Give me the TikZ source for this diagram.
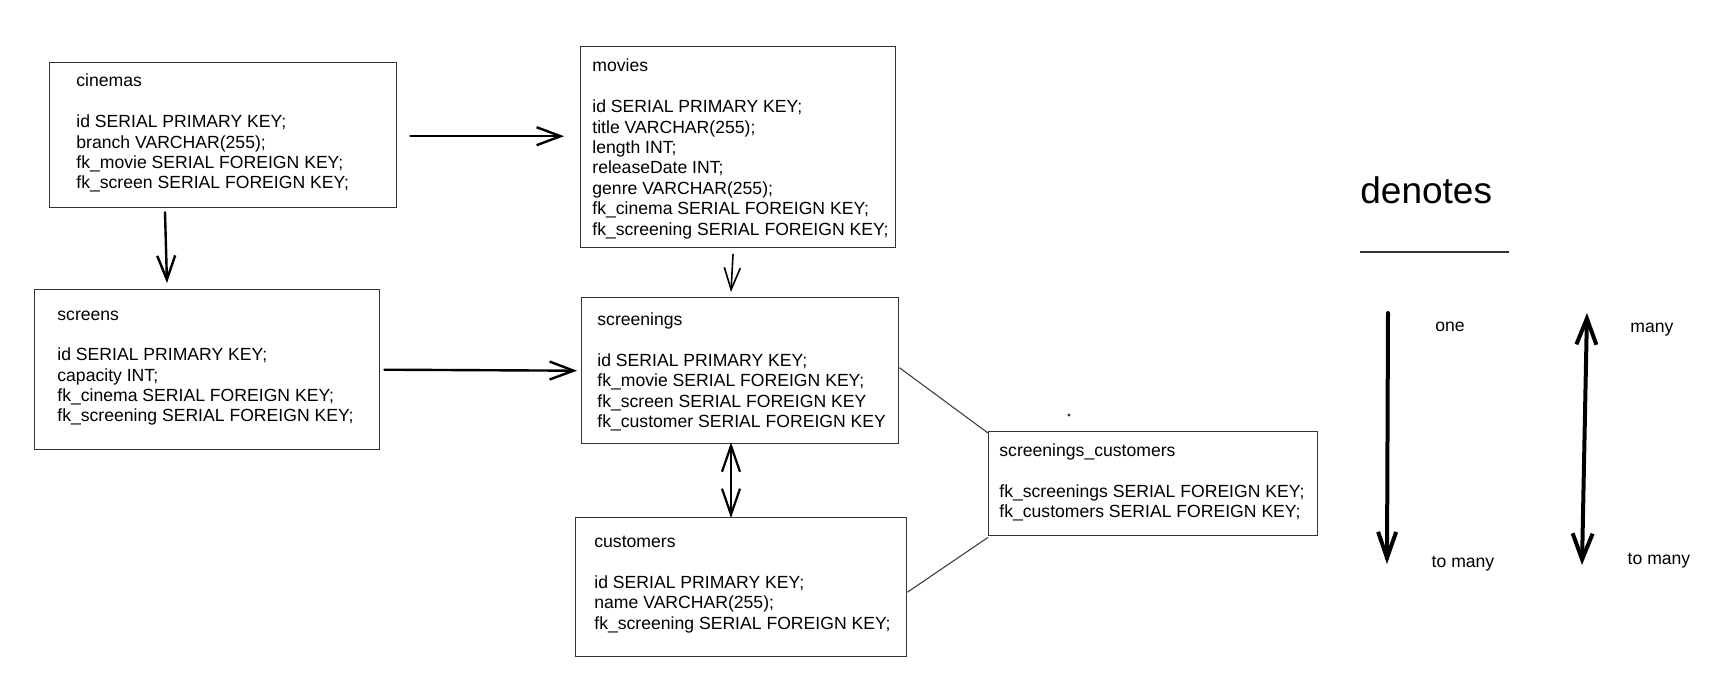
\documentclass[tikz,border=0pt]{standalone}
\usepackage{fontspec}
\setmainfont{Liberation Sans}
\usetikzlibrary{arrows.meta,calc}
\newcommand{\tbltext}[1]{\parbox[t]{200pt}{\raggedright #1}}
\begin{document}
\begin{tikzpicture}[x=0.5pt,y=-0.5pt,
  tbox/.style={draw=black!80, line width=0.7pt, inner sep=0pt, anchor=north west},
  ttext/.style={anchor=base west, inner sep=0pt, font=\fontsize{8.8pt}{10.2pt}\selectfont},
  lbl/.style={anchor=base, inner sep=0pt, font=\fontsize{8.8pt}{10.2pt}\selectfont},
  rel/.style={line width=1.2pt, line cap=round, -{Straight Barb[length=12pt,width=9pt]}},
  relthin/.style={line width=0.8pt, line cap=round, -{Straight Barb[length=11pt,width=8pt]}},
  relboth/.style={line width=1.1pt, line cap=round, {Straight Barb[length=13pt,width=9pt]}-{Straight Barb[length=13pt,width=9pt]}},
  link/.style={draw=black!75, line width=0.55pt},
  legone/.style={line width=2pt, line cap=round, -{Straight Barb[length=13pt,width=9pt]}},
  legmany/.style={line width=2pt, line cap=round, {Straight Barb[length=13pt,width=10pt]}-{Straight Barb[length=13pt,width=10pt]}}
]
\fill[white] (0,0) rectangle (1720,674);
\useasboundingbox (0,0) rectangle (1720,674);

% tables
\node[tbox, minimum width=173.5pt, minimum height=72.5pt] (cinemas) at (49,62) {};
\node[ttext] (cinemasT) at (76,87) {\tbltext{cinemas\\\mbox{}\\id SERIAL PRIMARY KEY;\\branch VARCHAR(255);\\fk\_movie SERIAL FOREIGN KEY;\\fk\_screen SERIAL FOREIGN KEY;}};

\node[tbox, minimum width=157.5pt, minimum height=100.5pt] (movies) at (580,46) {};
\node[ttext] (moviesT) at (592,72) {\tbltext{movies\\\mbox{}\\id SERIAL PRIMARY KEY;\\title VARCHAR(255);\\length INT;\\releaseDate INT;\\genre VARCHAR(255);\\fk\_cinema SERIAL FOREIGN KEY;\\fk\_screening SERIAL FOREIGN KEY;}};

\node[tbox, minimum width=172.5pt, minimum height=80pt] (screens) at (34,289) {};
\node[ttext] (screensT) at (57,320) {\tbltext{screens\\\mbox{}\\id SERIAL PRIMARY KEY;\\capacity INT;\\fk\_cinema SERIAL FOREIGN KEY;\\fk\_screening SERIAL FOREIGN KEY;}};

\node[tbox, minimum width=158.5pt, minimum height=73pt] (screenings) at (581,297) {};
\node[ttext] (screeningsT) at (597,325.5) {\tbltext{screenings\\\mbox{}\\id SERIAL PRIMARY KEY;\\fk\_movie SERIAL FOREIGN KEY;\\fk\_screen SERIAL FOREIGN KEY\\fk\_customer SERIAL FOREIGN KEY}};

\node[tbox, minimum width=165.5pt, minimum height=69.5pt] (customers) at (575,517) {};
\node[ttext] (customersT) at (594,547.5) {\tbltext{customers\\\mbox{}\\id SERIAL PRIMARY KEY;\\name VARCHAR(255);\\fk\_screening SERIAL FOREIGN KEY;}};

\node[tbox, minimum width=164.5pt, minimum height=52pt] (sc) at (988,431) {};
\node[ttext] (scT) at (999,456.5) {\tbltext{screenings\_customers\\\mbox{}\\fk\_screenings SERIAL FOREIGN KEY;\\fk\_customers SERIAL FOREIGN KEY;}};

% connectors
\draw[rel] ($(cinemas.east)+(13,1)$) -- ($(cinemas.east -| movies.west)+(-16,1)$);
\draw[rel] ($(cinemas.south west)+(116,4)$) -- ($(screens.north west)+(133,-6)$);
\draw[rel] ($(screens.east)+(4,0)$) -- ($(screenings.west)+(-4,0)$);
\draw[relthin] ($(movies.south west)+(153,6)$) -- ($(screenings.north west)+(150,-5)$);
\draw[relboth] ($(screenings.south west)+(150,-2)$) -- ($(customers.north west)+(156,1)$);
\draw[link] ($(screenings.east)+(0,-3)$) -- ($(sc.north west)+(0,2)$);
\draw[link] ($(customers.east)+(0,5)$) -- ($(sc.south west)+(0,1)$);
\fill[black!80] (1069,415) circle (0.8pt);

% legend
\node[anchor=base west, inner sep=0pt, font=\fontsize{18.5pt}{22pt}\selectfont] (denotes) at (1360,204) {denotes};
\draw[draw=black!80, line width=0.8pt] (1360,252) -- (1509,252);
\coordinate (oneTop) at (1388,313);
\coordinate (oneBot) at (1387,564);
\coordinate (manyTop) at (1587,313);
\coordinate (manyBot) at (1582,565);
\draw[legone] (oneTop) -- (oneBot);
\draw[legmany] (manyTop) -- (manyBot);
\node[lbl] (one) at (1450,331) {one};
\node[lbl] (toManyA) at (1463,567) {to many};
\node[lbl] (many) at (1652,332) {many};
\node[lbl] (toManyB) at (1659,564) {to many};
\end{tikzpicture}
\end{document}
